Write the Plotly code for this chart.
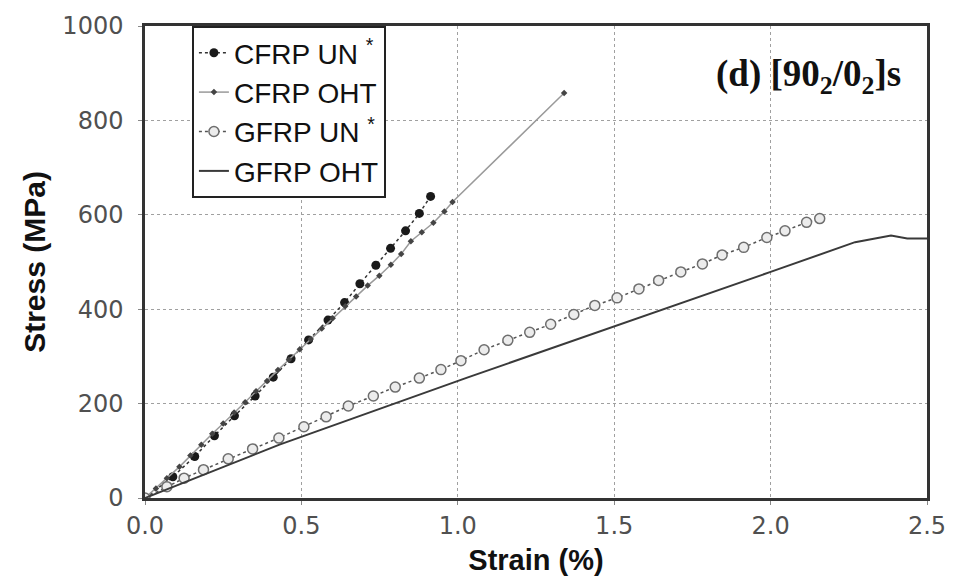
import plotly.graph_objects as go

# Stress-strain curves, [90_2/0_2]s laminates
cfrp_un_strain = [0.0, 0.089, 0.159, 0.222, 0.286, 0.352, 0.41, 0.467, 0.523, 0.585,
                  0.638, 0.687, 0.738, 0.785, 0.833, 0.877, 0.913]
cfrp_un_stress = [0, 45, 88, 132, 174, 216, 256, 295, 335, 377,
                  414, 454, 493, 529, 566, 603, 639]

cfrp_oht_strain = [0.0, 0.035, 0.07, 0.11, 0.145, 0.18, 0.215, 0.25, 0.285, 0.32,
                   0.355, 0.39, 0.425, 0.46, 0.495, 0.53, 0.565, 0.6, 0.64, 0.675,
                   0.712, 0.749, 0.786, 0.819, 0.85, 0.885, 0.922, 0.957, 0.983, 1.34]
cfrp_oht_stress = [0, 20, 42, 66, 90, 113, 136, 158, 181, 203,
                   226, 248, 271, 293, 315, 337, 359, 381, 406, 427,
                   450, 471, 494, 517, 544, 563, 583, 607, 627, 858]

gfrp_un_strain = [0.0, 0.07, 0.125, 0.187, 0.266, 0.344, 0.428, 0.508, 0.579, 0.65,
                  0.73, 0.80, 0.877, 0.946, 1.01, 1.084, 1.16, 1.23, 1.297, 1.371,
                  1.438, 1.509, 1.579, 1.642, 1.713, 1.782, 1.845, 1.914, 1.988, 2.046,
                  2.115, 2.157]
gfrp_un_stress = [0, 24, 42, 60, 83, 104, 127, 151, 172, 195,
                  216, 235, 254, 272, 291, 314, 334, 351, 368, 389,
                  408, 424, 443, 461, 479, 496, 515, 531, 552, 566,
                  584, 592]

gfrp_oht_strain = [0.0, 0.43, 1.03, 1.5, 1.82, 2.0, 2.27, 2.385, 2.437, 2.5]
gfrp_oht_stress = [0, 113, 255, 363, 437, 479, 542, 556, 550, 550]

x_ticks = [0.0, 0.5, 1.0, 1.5, 2.0, 2.5]
y_ticks = [0, 200, 400, 600, 800, 1000]

SANS = "Liberation Sans, Arial"
TICK_FONT = dict(family="DejaVu Sans", size=24, color="#505050")

fig = go.Figure()

fig.add_trace(go.Scatter(
    x=cfrp_un_strain, y=cfrp_un_stress, name="CFRP UN <sup>*</sup>",
    mode="lines+markers", legendgroup="a",
    line=dict(color="#333333", width=1.5, dash="dot"),
    marker=dict(symbol="circle", size=9, color="#1a1a1a"),
))
fig.add_trace(go.Scatter(
    x=cfrp_oht_strain, y=cfrp_oht_stress, name="CFRP OHT",
    mode="lines+markers", legendgroup="b",
    line=dict(color="#9a9a9a", width=1.5),
    marker=dict(symbol="diamond", size=5, color="#444444"),
))
fig.add_trace(go.Scatter(
    x=gfrp_un_strain, y=gfrp_un_stress, name="GFRP UN <sup>*</sup>",
    mode="lines+markers", legendgroup="c",
    line=dict(color="#555555", width=1.5, dash="dot"),
    marker=dict(symbol="circle", size=10, color="#ececec",
                line=dict(color="#6e6e6e", width=1.5)),
))
fig.add_trace(go.Scatter(
    x=gfrp_oht_strain, y=gfrp_oht_stress, name="GFRP OHT",
    mode="lines", legendgroup="d",
    line=dict(color="#3a3a3a", width=2),
))

axis_common = dict(
    showline=True, linecolor="#333333", linewidth=2.5, mirror=True,
    showgrid=True, gridcolor="#a0a0a0", gridwidth=1, griddash="dot",
    ticks="outside", ticklen=4, tickcolor="#888888",
    tickfont=TICK_FONT,
    zeroline=False,
)

fig.update_xaxes(
    range=[0, 2.5], tickvals=x_ticks, tickformat=".1f",
    ticklabelstandoff=0,
    title=dict(text="<b>Strain (%)</b>", standoff=12,
               font=dict(family=SANS, size=29, color="#111111")),
    **axis_common,
)
fig.update_yaxes(
    range=[0, 1000], tickvals=y_ticks,
    ticklabelstandoff=10,
    title=dict(text="<b>Stress (MPa)</b>", standoff=8,
               font=dict(family=SANS, size=30, color="#111111")),
    **axis_common,
)

fig.add_annotation(
    text="<b>(d) [90<sub>2</sub>/0<sub>2</sub>]s</b>",
    xref="paper", yref="paper", x=0.727, y=0.893,
    xanchor="left", yanchor="middle", showarrow=False,
    font=dict(family="Liberation Serif, Times New Roman", size=37, color="#111111"),
)

fig.update_layout(
    width=958, height=586,
    margin=dict(l=145, r=25, t=22, b=88),
    paper_bgcolor="white", plot_bgcolor="white",
    font=dict(family=SANS),
    legend=dict(
        x=0.06, y=1.0, xanchor="left", yanchor="top",
        bgcolor="white", bordercolor="#222222", borderwidth=2,
        font=dict(family=SANS, size=28, color="#111111"),
        tracegroupgap=0, itemwidth=30,
    ),
    showlegend=True,
)

fig.write_html("out.html")
